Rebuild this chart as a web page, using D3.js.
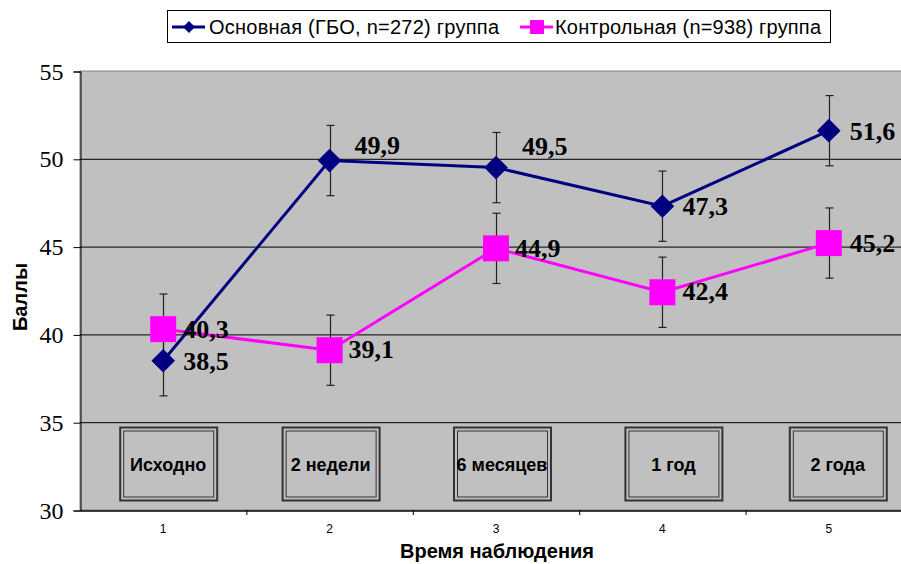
<!DOCTYPE html>
<html>
<head>
<meta charset="utf-8">
<script src="https://cdn.jsdelivr.net/npm/d3@7"></script>
<style>
  body { margin: 0; background: #fff; }
  svg { display: block; }
</style>
</head>
<body>
<script>
const categories = [1, 2, 3, 4, 5];
const periodLabels = ['Исходно', '2 недели', '6 месяцев', '1 год', '2 года'];
const mainValues = [38.5, 49.9, 49.5, 47.3, 51.6];
const controlValues = [40.3, 39.1, 44.9, 42.4, 45.2];
const errorSize = 2;
const yTicks = [30, 35, 40, 45, 50, 55];
const mainName = 'Основная (ГБО, n=272) группа';
const controlName = 'Контрольная (n=938) группа';

const width = 901;
const height = 564;
const plot = { left: 80, top: 71, right: 912, bottom: 510 };
const serif = '"Liberation Serif", "Times New Roman", serif';
const sans = '"Liberation Sans", Arial, sans-serif';

// label offsets (dx, baseline dy) per point, placed by hand like the original
const mainLabelOffsets = [[20, 9], [25, -7], [26, -13], [20, 9], [21, 9]];
const controlLabelOffsets = [[20, 9], [19, 8], [19, 9], [20, 8], [21, 9]];
// period boxes: center x shift relative to category centre
const boxShift = [5, 1, 6, 11, 9];

const svg = d3.select('body')
  .append('svg')
  .attr('width', width)
  .attr('height', height);

const xScale = d3.scaleBand()
  .domain(categories)
  .range([plot.left, plot.right]);

const yScale = d3.scaleLinear()
  .domain([30, 55])
  .range([plot.bottom, plot.top]);

const cx = d => xScale(d) + xScale.bandwidth() / 2;

// plot background
svg.append('rect')
  .attr('x', plot.left)
  .attr('y', plot.top)
  .attr('width', plot.right - plot.left)
  .attr('height', plot.bottom - plot.top)
  .attr('fill', '#c0c0c0')
  .attr('stroke', '#808080')
  .attr('stroke-width', 1);

// grid lines
svg.selectAll('line.grid')
  .data(yTicks.filter(t => t > 30 && t < 55))
  .enter()
  .append('line')
  .attr('class', 'grid')
  .attr('x1', plot.left)
  .attr('x2', plot.right)
  .attr('y1', d => yScale(d) + 0.5)
  .attr('y2', d => yScale(d) + 0.5)
  .attr('stroke', '#000')
  .attr('stroke-width', 1);

// y axis
const yAxis = d3.axisLeft(yScale)
  .tickValues(yTicks)
  .tickSize(7)
  .tickPadding(10);

const gy = svg.append('g')
  .attr('transform', 'translate(' + (plot.left + 0.5) + ',0.5)')
  .call(yAxis);
gy.select('.domain').attr('stroke', '#000');
gy.selectAll('.tick line').attr('stroke', '#000');
gy.selectAll('.tick text')
  .attr('font-family', serif)
  .attr('font-size', 24)
  .attr('fill', '#000');

// x axis
const xAxis = d3.axisBottom(xScale)
  .tickSize(0)
  .tickPadding(14);

const gx = svg.append('g')
  .attr('transform', 'translate(0,' + (plot.bottom + 0.5) + ')')
  .call(xAxis);
gx.select('.domain').attr('stroke', '#000').attr('stroke-width', 1.5);
gx.selectAll('.tick text')
  .attr('font-family', sans)
  .attr('font-size', 12)
  .attr('fill', '#000');

// boundary ticks between categories
svg.selectAll('line.xtick')
  .data(categories.slice(1))
  .enter()
  .append('line')
  .attr('class', 'xtick')
  .attr('x1', d => xScale(d) + 0.5)
  .attr('x2', d => xScale(d) + 0.5)
  .attr('y1', plot.bottom)
  .attr('y2', plot.bottom + 5)
  .attr('stroke', '#000');

// period boxes inside the plot
const boxW = 97;
const boxH = 73;
const boxes = svg.selectAll('g.period')
  .data(categories)
  .enter()
  .append('g')
  .attr('class', 'period')
  .attr('transform', (d, i) => 'translate(' + (cx(d) + boxShift[i] - boxW / 2) + ',427)');

boxes.append('rect')
  .attr('x', 0.5).attr('y', 0.5)
  .attr('width', boxW).attr('height', boxH)
  .attr('fill', '#c0c0c0')
  .attr('stroke', '#333')
  .attr('stroke-width', 2);

boxes.append('rect')
  .attr('x', 4).attr('y', 4)
  .attr('width', boxW - 7).attr('height', boxH - 7)
  .attr('fill', 'none')
  .attr('stroke', '#333')
  .attr('stroke-width', 1);

boxes.append('text')
  .attr('x', boxW / 2)
  .attr('y', boxH / 2 + 7)
  .attr('text-anchor', 'middle')
  .attr('font-family', sans)
  .attr('font-weight', 'bold')
  .attr('font-size', 18)
  .text((d, i) => periodLabels[i]);

// error bars
function drawErrors(values) {
  const g = svg.append('g');
  values.forEach((v, i) => {
    const x = Math.round(cx(categories[i])) + 0.5;
    const y1 = yScale(v - errorSize);
    const y2 = yScale(v + errorSize);
    g.append('line').attr('x1', x).attr('x2', x).attr('y1', y1).attr('y2', y2)
      .attr('stroke', '#222').attr('stroke-width', 1.2);
    [y1, y2].forEach(y => {
      g.append('line').attr('x1', x - 4).attr('x2', x + 4).attr('y1', y).attr('y2', y)
        .attr('stroke', '#222').attr('stroke-width', 1.2);
    });
  });
}
drawErrors(controlValues);
drawErrors(mainValues);

const line = d3.line()
  .x((d, i) => cx(categories[i]))
  .y(d => yScale(d));

// control series
svg.append('path')
  .datum(controlValues)
  .attr('d', line)
  .attr('fill', 'none')
  .attr('stroke', '#ff00ff')
  .attr('stroke-width', 3);

// main series
svg.append('path')
  .datum(mainValues)
  .attr('d', line)
  .attr('fill', 'none')
  .attr('stroke', '#000080')
  .attr('stroke-width', 3);

svg.selectAll('rect.ctrl')
  .data(controlValues)
  .enter()
  .append('rect')
  .attr('class', 'ctrl')
  .attr('x', (d, i) => cx(categories[i]) - 13)
  .attr('y', d => yScale(d) - 13)
  .attr('width', 26)
  .attr('height', 26)
  .attr('fill', '#ff00ff');

const diamond = d3.symbol().type(d3.symbolSquare).size(280);
svg.selectAll('path.main')
  .data(mainValues)
  .enter()
  .append('path')
  .attr('class', 'main')
  .attr('d', diamond)
  .attr('transform', (d, i) => 'translate(' + cx(categories[i]) + ',' + yScale(d) + ') rotate(45)')
  .attr('fill', '#000080');

// value labels
function drawLabels(values, offsets) {
  svg.append('g')
    .selectAll('text')
    .data(values)
    .enter()
    .append('text')
    .attr('x', (d, i) => cx(categories[i]) + offsets[i][0])
    .attr('y', (d, i) => yScale(d) + offsets[i][1])
    .attr('font-family', serif)
    .attr('font-weight', 'bold')
    .attr('font-size', 26)
    .attr('fill', '#000')
    .text(d => d.toFixed(1).replace('.', ','));
}
drawLabels(controlValues, controlLabelOffsets);
drawLabels(mainValues, mainLabelOffsets);

// axis titles
svg.append('text')
  .attr('x', 497)
  .attr('y', 558)
  .attr('text-anchor', 'middle')
  .attr('font-family', sans)
  .attr('font-weight', 'bold')
  .attr('font-size', 20)
  .text('Время наблюдения');

svg.append('text')
  .attr('transform', 'translate(27,297) rotate(-90)')
  .attr('text-anchor', 'middle')
  .attr('font-family', sans)
  .attr('font-weight', 'bold')
  .attr('font-size', 20)
  .text('Баллы');

// legend
const legend = svg.append('g').attr('transform', 'translate(167,10)');
legend.append('rect')
  .attr('x', 0.5).attr('y', 0.5)
  .attr('width', 663).attr('height', 32)
  .attr('fill', '#fff')
  .attr('stroke', '#000')
  .attr('stroke-width', 1);

const legendItems = [
  { name: mainName, color: '#000080', x: 5, textX: 42, kind: 'diamond' },
  { name: controlName, color: '#ff00ff', x: 353, textX: 388, kind: 'square' }
];

legendItems.forEach(item => {
  legend.append('line')
    .attr('x1', item.x).attr('x2', item.x + 33)
    .attr('y1', 17).attr('y2', 17)
    .attr('stroke', item.color)
    .attr('stroke-width', 3);
  if (item.kind === 'diamond') {
    legend.append('path')
      .attr('d', d3.symbol().type(d3.symbolSquare).size(70))
      .attr('transform', 'translate(' + (item.x + 17) + ',17) rotate(45)')
      .attr('fill', item.color);
  } else {
    legend.append('rect')
      .attr('x', item.x + 10).attr('y', 10)
      .attr('width', 14).attr('height', 14)
      .attr('fill', item.color);
  }
  legend.append('text')
    .attr('x', item.textX)
    .attr('y', 24)
    .attr('font-family', sans)
    .attr('font-size', 20)
    .attr('textLength', item.kind === 'diamond' ? 290 : 266)
    .text(item.name);
});
</script>
</body>
</html>
